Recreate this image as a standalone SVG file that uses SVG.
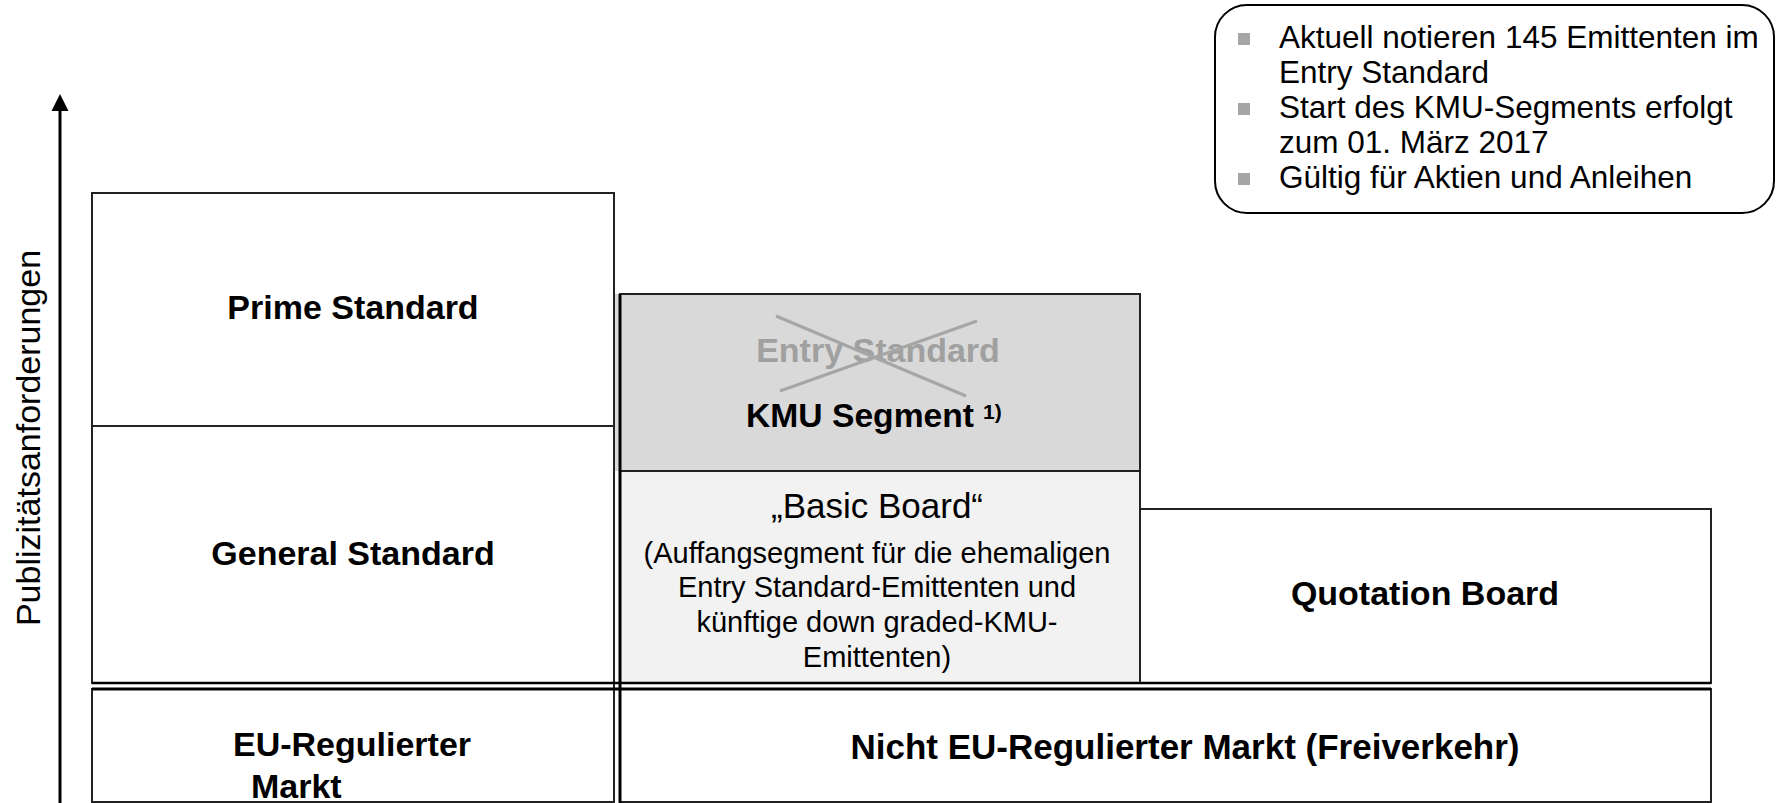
<svg xmlns="http://www.w3.org/2000/svg" width="1776" height="803" viewBox="0 0 1776 803">
<style>
.box{stroke:#222;stroke-width:2;}
.b{font-family:"Liberation Sans",Arial,sans-serif;font-weight:bold;font-size:34px;fill:#000;}
.r{font-family:"Liberation Sans",Arial,sans-serif;font-size:31.5px;fill:#000;}
.s{font-family:"Liberation Sans",Arial,sans-serif;font-size:29px;fill:#000;}
.bul{fill:#a6a6a6;}
</style>
<rect width="1776" height="803" fill="#fff"/>
<g id="axis">
<line x1="60" y1="803" x2="60" y2="108" stroke="#000" stroke-width="3"/>
<polygon points="60,94 51.5,111 68.5,111" fill="#000"/>
<text class="r" style="font-size:34px" transform="translate(40,438) rotate(-90)" text-anchor="middle">Publizitätsanforderungen</text>
</g>
<g id="callout">
<rect x="1215" y="5" width="559" height="208" rx="32" ry="32" fill="#fff" stroke="#000" stroke-width="2"/>
<rect class="bul" x="1238" y="33" width="12" height="12"/>
<rect class="bul" x="1238" y="103" width="12" height="12"/>
<rect class="bul" x="1238" y="173" width="12" height="12"/>
<text class="r" x="1279" y="48">Aktuell notieren 145 Emittenten im</text>
<text class="r" x="1279" y="83">Entry Standard</text>
<text class="r" x="1279" y="118">Start des KMU-Segments erfolgt</text>
<text class="r" x="1279" y="153">zum 01. März 2017</text>
<text class="r" x="1279" y="188">Gültig für Aktien und Anleihen</text>
</g>
<g id="prime">
<rect class="box" x="92" y="193" width="522" height="233" fill="#fff"/>
<text class="b" x="353" y="319" text-anchor="middle">Prime Standard</text>
</g>
<g id="general">
<rect class="box" x="92" y="426" width="522" height="257" fill="#fff"/>
<text class="b" x="353" y="565" text-anchor="middle">General Standard</text>
</g>
<g id="eu">
<rect class="box" x="92" y="689" width="522" height="113" fill="#fff"/>
<text class="b" x="233" y="756">EU-Regulierter</text>
<text class="b" x="251" y="798">Markt</text>
</g>
<g id="kmu">
<rect x="614" y="294" width="526" height="177" fill="#d9d9d9"/>
<rect class="box" x="620" y="294" width="520" height="177" fill="none"/>
<text class="b" x="878" y="362" text-anchor="middle" style="fill:#a0a0a0">Entry Standard</text>
<line x1="776" y1="316" x2="966" y2="396" stroke="#a6a6a6" stroke-width="3"/>
<line x1="780" y1="391" x2="977" y2="321" stroke="#a6a6a6" stroke-width="3"/>
<text class="b" x="746" y="427" textLength="228" lengthAdjust="spacingAndGlyphs">KMU Segment</text>
<text class="b" x="983" y="419" style="font-size:21px">1)</text>
</g>
<g id="basic">
<rect class="box" x="620" y="471" width="520" height="212" fill="#f2f2f2"/>
<text class="r" x="877" y="518" text-anchor="middle" style="font-size:35px">„Basic Board“</text>
<text class="s" x="877" y="563" text-anchor="middle">(Auffangsegment für die ehemaligen</text>
<text class="s" x="877" y="597" text-anchor="middle">Entry Standard-Emittenten und</text>
<text class="s" x="877" y="632" text-anchor="middle">künftige down graded-KMU-</text>
<text class="s" x="877" y="667" text-anchor="middle">Emittenten)</text>
</g>
<g id="quotation">
<rect class="box" x="1140" y="509" width="571" height="174" fill="#fff"/>
<text class="b" x="1425" y="605" text-anchor="middle">Quotation Board</text>
</g>
<g id="freiverkehr">
<rect class="box" x="620" y="689" width="1091" height="113" fill="#fff"/>
<text class="b" x="1185" y="759" text-anchor="middle" style="font-size:35px">Nicht EU-Regulierter Markt (Freiverkehr)</text>
</g>
<g id="connectors">
<line x1="614" y1="193" x2="614" y2="803" stroke="#222" stroke-width="2"/>
<line x1="620" y1="294" x2="620" y2="803" stroke="#000" stroke-width="3"/>
<line x1="92" y1="683" x2="1711" y2="683" stroke="#000" stroke-width="2.5"/>
<line x1="92" y1="689" x2="1711" y2="689" stroke="#000" stroke-width="3"/>
</g>
</svg>
